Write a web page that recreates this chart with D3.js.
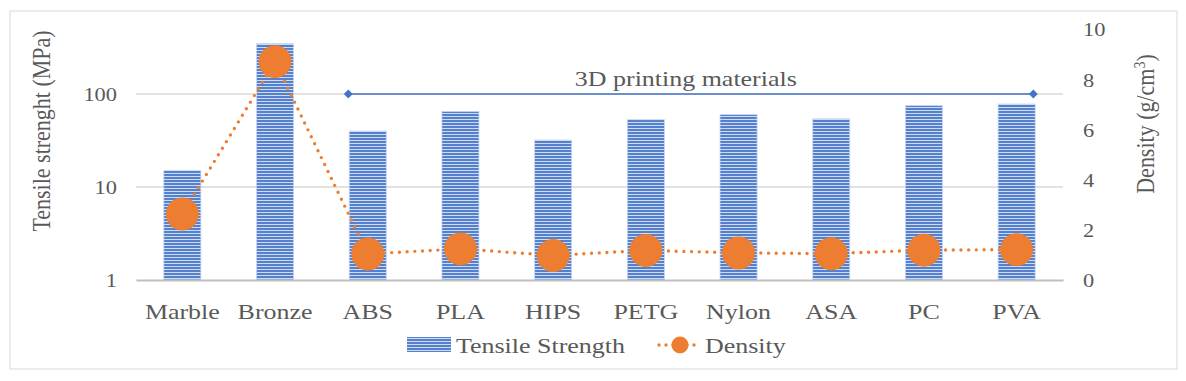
<!DOCTYPE html>
<html>
<head>
    <title>Tensile strength and density</title>
    <script src="https://d3js.org/d3.v7.min.js"></script>
    <style>
        body { margin: 0; background: #fff; }
        text { font-family: "Liberation Serif", "Times New Roman", serif; fill: #595959; }
    </style>
</head>
<body>
    <script>
        var categories = ["Marble", "Bronze", "ABS", "PLA", "HIPS", "PETG", "Nylon", "ASA", "PC", "PVA"];
        var tensile = [15, 347, 40, 65, 32, 53, 60, 54, 75, 78];
        var density = [2.63, 8.7, 1.04, 1.24, 0.98, 1.18, 1.08, 1.05, 1.19, 1.21];
        var seriesNames = ["Tensile Strength", "Density"];
        var leftTicks = [1, 10, 100];
        var rightTicks = [0, 2, 4, 6, 8, 10];
        var groupLabel = "3D printing materials";
        var groupSpan = [2.29, 9.68];   // in category units
        var groupLevel = 100;           // on the tensile axis

        var width = 1186, height = 381;
        var plotL = 136, plotR = 1063, plotT = 29, plotB = 280;
        var sx = 1.18;   // the original picture is a bit wider than tall

        var svg = d3.select("body")
            .append("svg")
            .attr("width", width)
            .attr("height", height);

        // striped fill for the bars
        var pat = svg.append("defs").append("pattern")
            .attr("id", "stripes")
            .attr("patternUnits", "userSpaceOnUse")
            .attr("width", 6)
            .attr("height", 3);
        pat.append("rect").attr("width", 6).attr("height", 3).attr("fill", "#5580cc");
        pat.append("rect").attr("y", 2).attr("width", 6).attr("height", 1).attr("fill", "#cddaf3");

        // chart frame
        svg.append("rect")
            .attr("x", 10).attr("y", 11)
            .attr("width", 1167).attr("height", 358)
            .attr("fill", "none")
            .attr("stroke", "#d9d9d9")
            .attr("stroke-width", 1);

        function label(x, y, txt, size, anchor) {
            return svg.append("text")
                .attr("transform", "translate(" + x + "," + y + ") scale(" + sx + ",1)")
                .attr("text-anchor", anchor || "start")
                .style("font-size", size + "px")
                .text(txt);
        }

        var x = d3.scaleBand()
            .domain(categories)
            .range([plotL, plotR])
            .paddingInner(0.6)
            .paddingOuter(0.3);

        var xi = d3.scaleLinear().domain([0, categories.length]).range([plotL, plotR]);

        var yL = d3.scaleLog().domain([1, 500]).range([plotB, plotT]);
        var yR = d3.scaleLinear().domain([0, 10]).range([plotB, plotT]);

        // gridlines
        svg.append("g")
            .selectAll("line")
            .data(leftTicks.slice(1))
            .enter()
            .append("line")
            .attr("x1", plotL).attr("x2", plotR)
            .attr("y1", function(d) { return yL(d); })
            .attr("y2", function(d) { return yL(d); })
            .attr("stroke", "#d9d9d9")
            .attr("stroke-width", 1.5);

        // bars
        svg.append("g")
            .selectAll("rect")
            .data(categories)
            .enter()
            .append("rect")
            .attr("x", function(d) { return x(d); })
            .attr("y", function(d, i) { return yL(tensile[i]); })
            .attr("width", x.bandwidth())
            .attr("height", function(d, i) { return plotB - yL(tensile[i]); })
            .attr("fill", "url(#stripes)")
            .attr("stroke", "#c9d6f0")
            .attr("stroke-width", 0.8);

        // axes
        var xAxis = svg.append("g")
            .attr("transform", "translate(0," + plotB + ")")
            .call(d3.axisBottom(x).tickSize(0).tickPadding(23));
        xAxis.select(".domain").attr("stroke", "#bfbfbf").attr("stroke-width", 2);
        xAxis.selectAll("text")
            .style("font-size", "22px")
            .attr("fill", "#595959")
            .attr("transform", "scale(" + sx + ",1)");

        var yAxisL = svg.append("g")
            .attr("transform", "translate(" + plotL + ",0)")
            .call(d3.axisLeft(yL).tickValues(leftTicks).tickFormat(d3.format("d")).tickSize(0));
        yAxisL.select(".domain").remove();
        yAxisL.selectAll("text")
            .style("font-size", "19px")
            .attr("fill", "#595959")
            .attr("x", -19 / sx)
            .attr("dy", "0.36em")
            .attr("transform", "scale(" + sx + ",1)");

        var yAxisR = svg.append("g")
            .attr("transform", "translate(" + plotR + ",0)")
            .call(d3.axisRight(yR).tickValues(rightTicks).tickSize(0));
        yAxisR.select(".domain").remove();
        yAxisR.selectAll("text")
            .style("font-size", "19px")
            .attr("fill", "#595959")
            .attr("x", 20 / sx)
            .attr("dy", "0.36em")
            .attr("transform", "scale(" + sx + ",1)");

        // axis titles
        svg.append("text")
            .attr("transform", "translate(50,131) rotate(-90) scale(1," + sx + ")")
            .attr("text-anchor", "middle")
            .style("font-size", "22px")
            .text("Tensile strenght (MPa)");

        var rt = svg.append("text")
            .attr("transform", "translate(1154,124) rotate(-90) scale(1," + sx + ")")
            .attr("text-anchor", "middle")
            .style("font-size", "22px");
        rt.append("tspan").text("Density (g/cm");
        rt.append("tspan").attr("baseline-shift", "super").style("font-size", "14px").text("3");
        rt.append("tspan").text(")");

        // 3D printing materials bracket
        svg.append("line")
            .attr("x1", xi(groupSpan[0])).attr("x2", xi(groupSpan[1]))
            .attr("y1", yL(groupLevel)).attr("y2", yL(groupLevel))
            .attr("stroke", "#4472c4")
            .attr("stroke-width", 1.5);
        svg.append("g")
            .selectAll("path")
            .data(groupSpan)
            .enter()
            .append("path")
            .attr("d", d3.symbol().type(d3.symbolDiamond2).size(50))
            .attr("transform", function(d) { return "translate(" + xi(d) + "," + yL(groupLevel) + ")"; })
            .attr("fill", "#4472c4");
        label((xi(groupSpan[0]) + xi(groupSpan[1])) / 2 - 5, yL(groupLevel) - 8, groupLabel, 22, "middle");

        // density line
        var line = d3.line()
            .x(function(d, i) { return x(categories[i]) + x.bandwidth() / 2; })
            .y(function(d) { return yR(d); });

        svg.append("path")
            .datum(density)
            .attr("d", line)
            .attr("fill", "none")
            .attr("stroke", "#ed7d31")
            .attr("stroke-width", 3.4)
            .attr("stroke-linecap", "round")
            .attr("stroke-dasharray", "0,7.7");

        svg.append("g")
            .selectAll("circle")
            .data(density)
            .enter()
            .append("circle")
            .attr("cx", function(d, i) { return x(categories[i]) + x.bandwidth() / 2; })
            .attr("cy", function(d) { return yR(d); })
            .attr("r", 16.5)
            .attr("fill", "#ed7d31");

        // legend
        svg.append("rect")
            .attr("x", 407).attr("y", 337)
            .attr("width", 44).attr("height", 15)
            .attr("fill", "url(#stripes)");
        label(456, 353, seriesNames[0], 22);
        svg.append("line")
            .attr("x1", 659).attr("x2", 701)
            .attr("y1", 345).attr("y2", 345)
            .attr("stroke", "#ed7d31")
            .attr("stroke-width", 3.4)
            .attr("stroke-linecap", "round")
            .attr("stroke-dasharray", "0,7");
        svg.append("circle")
            .attr("cx", 680).attr("cy", 345).attr("r", 8.5)
            .attr("fill", "#ed7d31");
        label(705, 353, seriesNames[1], 22);
    </script>
</body>
</html>
